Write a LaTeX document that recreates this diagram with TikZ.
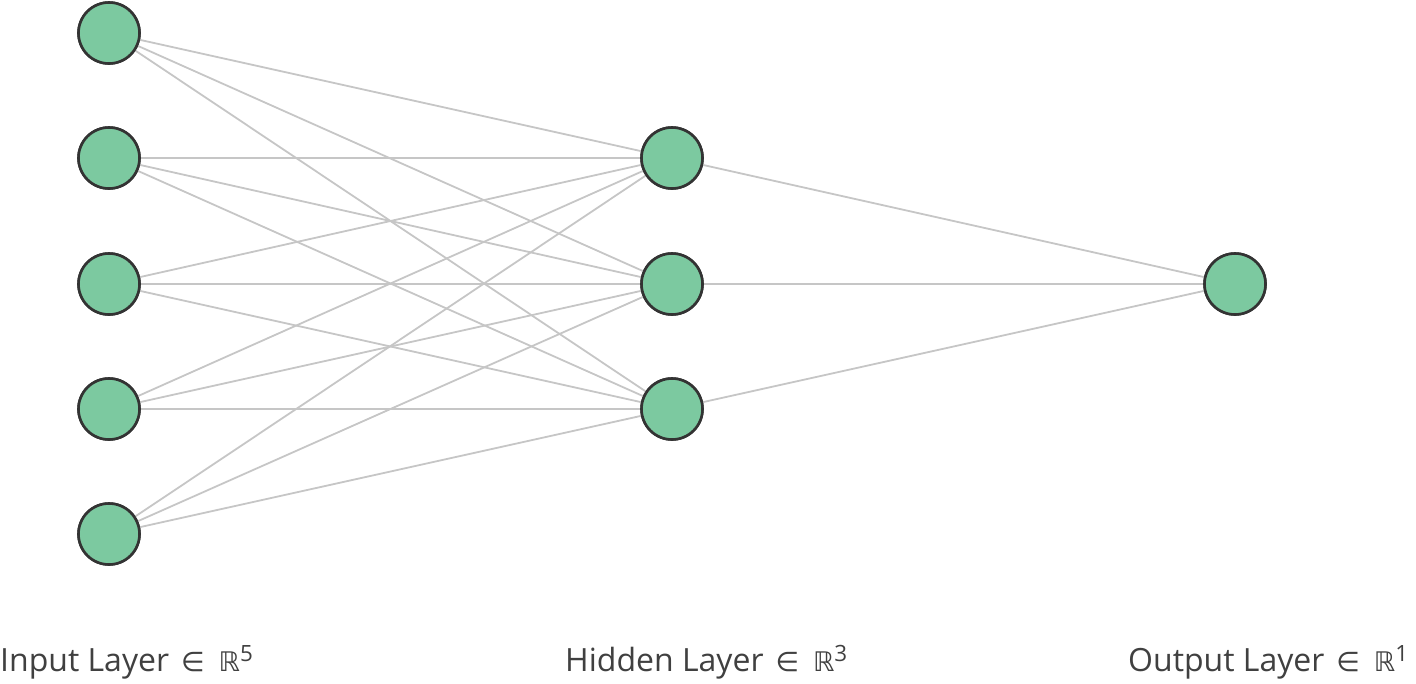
\documentclass[tikz,border=0pt]{standalone}
\usepackage{fontspec}
\setmainfont{Open Sans}
\newfontfamily\symfont{DejaVu Sans}
\definecolor{nodefill}{HTML}{7CC9A0}
\definecolor{nodeedge}{HTML}{333333}
\definecolor{edgegray}{HTML}{C6C6C6}
\newcommand{\inR}[1]{\hspace{12pt}{\symfont\fontsize{27}{30}\selectfont ∈\hspace{14pt}ℝ}\textsuperscript{#1}}
\begin{document}
\begin{tikzpicture}[x=1pt,y=-1pt,
  neuron/.style={circle,draw=nodeedge,fill=nodefill,line width=2.6pt,minimum size=61pt,inner sep=0pt},
  conn/.style={draw=edgegray,line width=1.8pt},
  lbl/.style={anchor=base west,inner sep=0pt,font=\fontsize{32}{38}\selectfont,text=black!75}]
\useasboundingbox (0,0) rectangle (1416,683);
\foreach \i/\y in {1/33,2/158,3/284,4/409,5/534} \node[neuron] (i\i) at (109,\y) {};
\foreach \j/\y in {1/158,2/284,3/409} \node[neuron] (h\j) at (672,\y) {};
\node[neuron] (o1) at (1235,284) {};
\foreach \i in {1,...,5} \foreach \j in {1,2,3} \draw[conn] (i\i) -- (h\j);
\foreach \j in {1,2,3} \draw[conn] (h\j) -- (o1);
\foreach \i/\y in {1/33,2/158,3/284,4/409,5/534} \node[neuron] at (109,\y) {};
\foreach \j/\y in {1/158,2/284,3/409} \node[neuron] at (672,\y) {};
\node[neuron] at (1235,284) {};
\node[lbl] (li) at (0,671) {Input Layer\inR{5}};
\node[lbl] (lh) at (565,671) {Hidden Layer\inR{3}};
\node[lbl] (lo) at (1128,671) {Output Layer\inR{1}};
\end{tikzpicture}
\end{document}
